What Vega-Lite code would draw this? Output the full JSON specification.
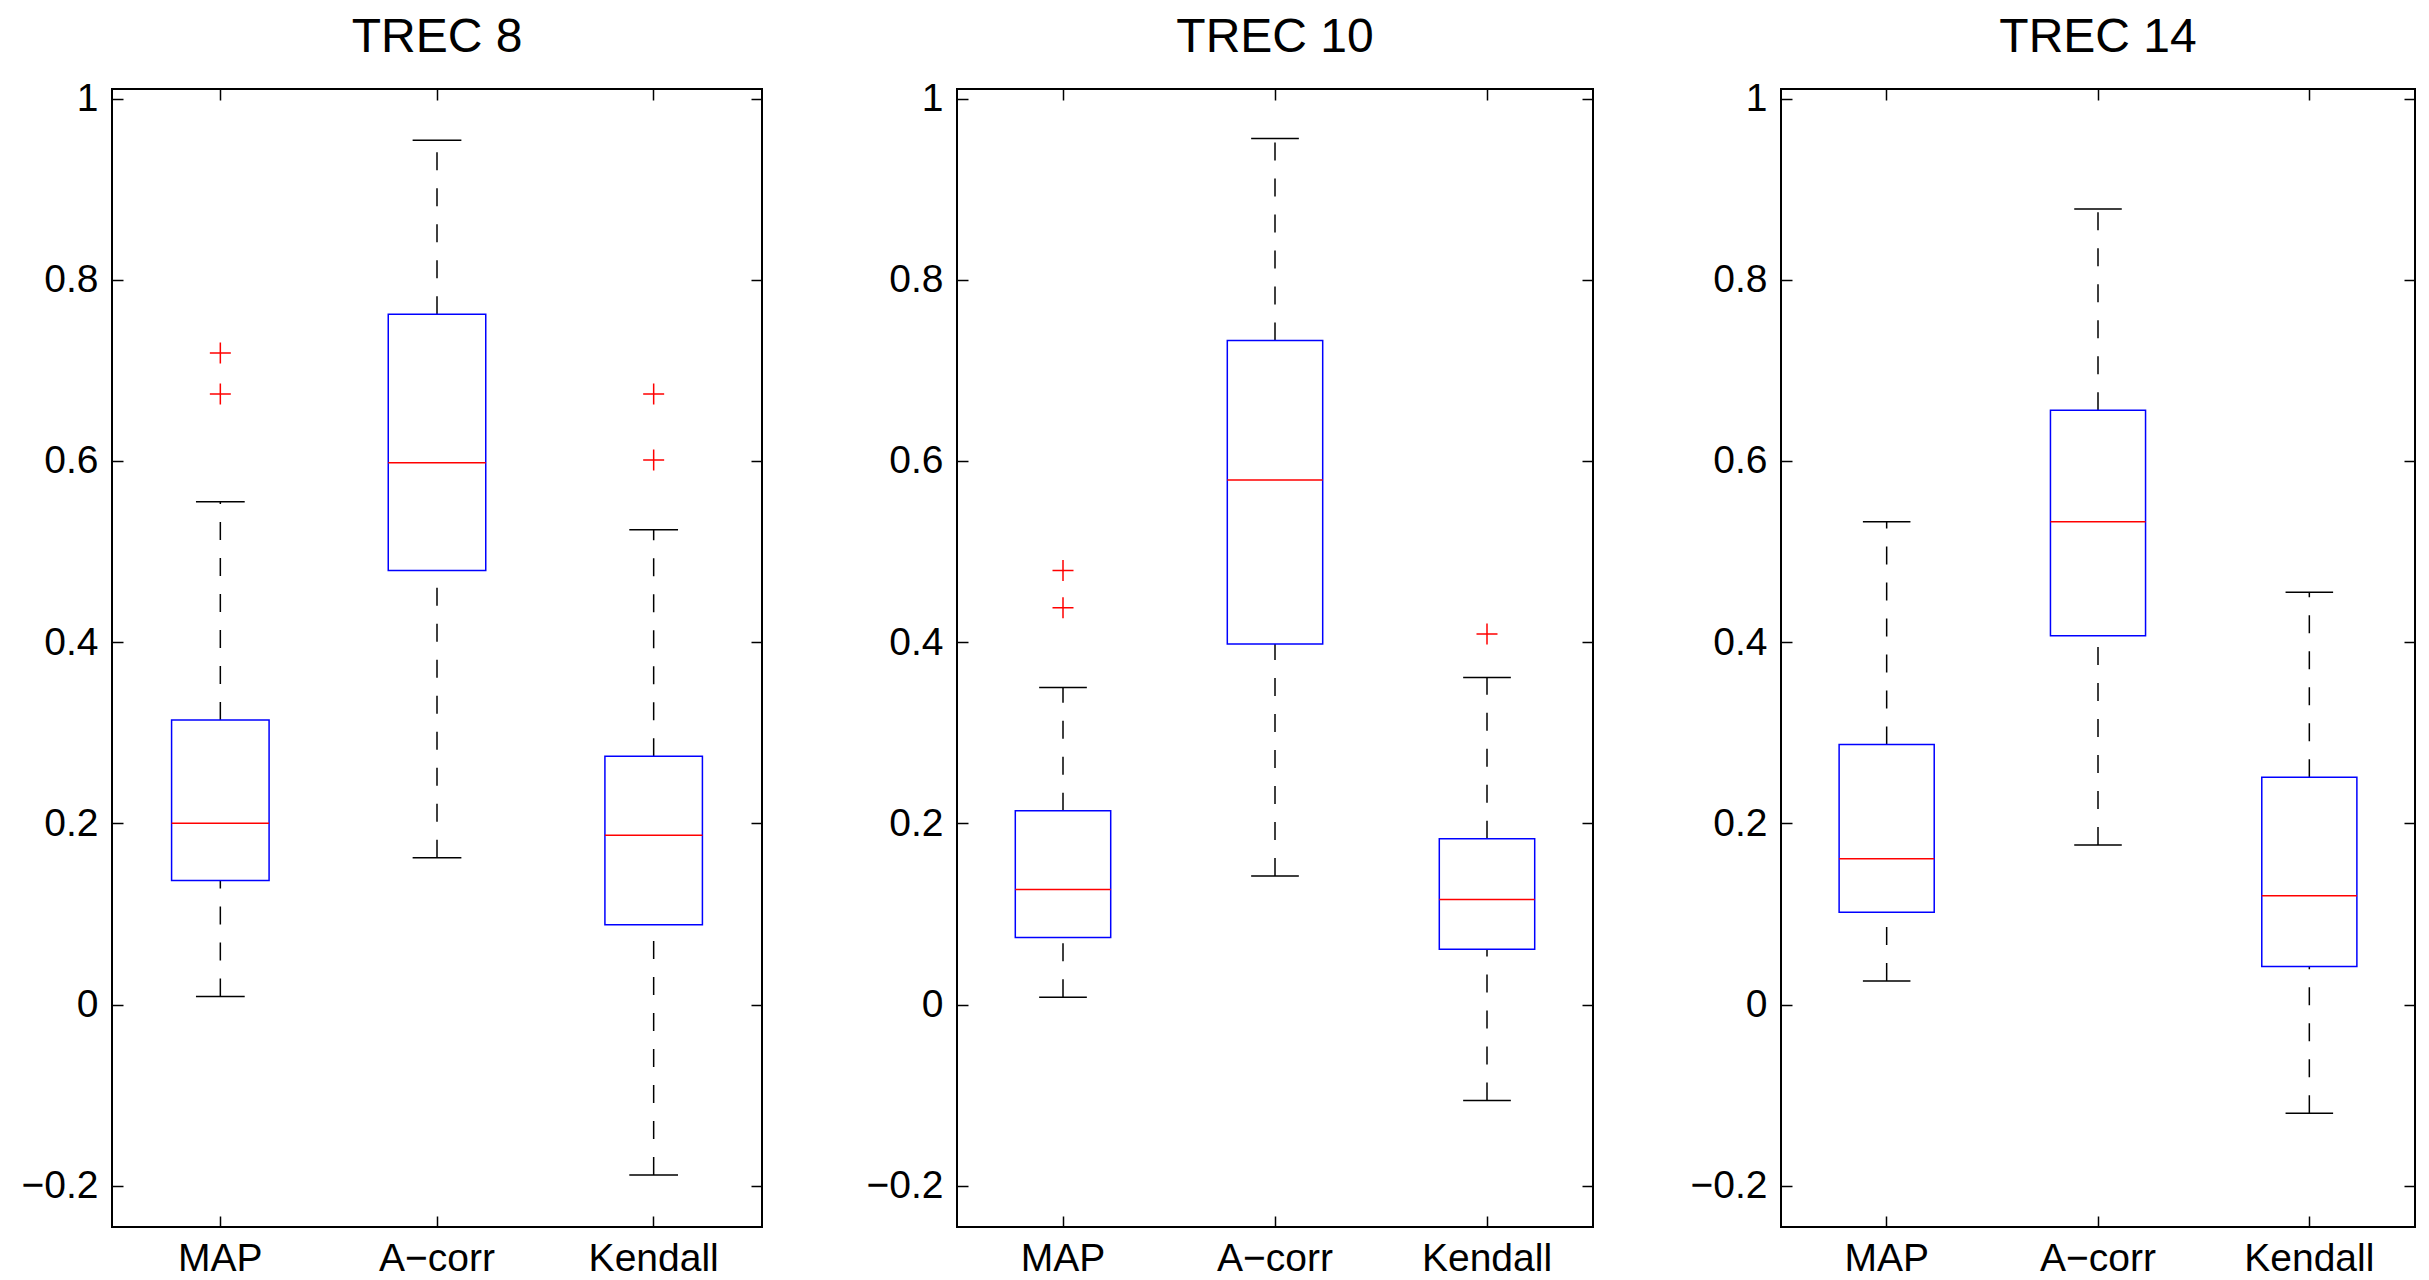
{
  "$schema": "https://vega.github.io/schema/vega-lite/v6.json",
  "padding": {"left": 20, "top": 12, "right": 5, "bottom": 0},
  "background": "white",
  "config": {
    "font": "Liberation Sans",
    "view": {"stroke": "black", "strokeWidth": 2},
    "axis": {"grid": false, "domain": false, "labelFont": "Liberation Sans", "labelFontSize": 39, "labelColor": "black", "tickColor": "black", "tickWidth": 1.5, "tickSize": -11},
    "title": {"fontSize": 48, "font": "Liberation Sans", "fontWeight": "normal", "color": "black", "baseline": "alphabetic", "offset": 18, "anchor": "middle"}
  },
  "datasets": {
    "stats": [
      {"set": "TREC 8", "metric": "MAP", "lo": 0.009, "q1": 0.137, "med": 0.200, "q3": 0.314, "hi": 0.555},
      {"set": "TREC 8", "metric": "A−corr", "lo": 0.162, "q1": 0.479, "med": 0.598, "q3": 0.762, "hi": 0.954},
      {"set": "TREC 8", "metric": "Kendall", "lo": -0.188, "q1": 0.088, "med": 0.187, "q3": 0.274, "hi": 0.524},
      {"set": "TREC 10", "metric": "MAP", "lo": 0.008, "q1": 0.074, "med": 0.127, "q3": 0.214, "hi": 0.350},
      {"set": "TREC 10", "metric": "A−corr", "lo": 0.142, "q1": 0.398, "med": 0.579, "q3": 0.733, "hi": 0.956},
      {"set": "TREC 10", "metric": "Kendall", "lo": -0.106, "q1": 0.061, "med": 0.116, "q3": 0.183, "hi": 0.361},
      {"set": "TREC 14", "metric": "MAP", "lo": 0.026, "q1": 0.102, "med": 0.161, "q3": 0.287, "hi": 0.533},
      {"set": "TREC 14", "metric": "A−corr", "lo": 0.176, "q1": 0.407, "med": 0.533, "q3": 0.656, "hi": 0.878},
      {"set": "TREC 14", "metric": "Kendall", "lo": -0.120, "q1": 0.042, "med": 0.120, "q3": 0.251, "hi": 0.455}
    ],
    "out": [
      {"set": "TREC 8", "metric": "MAP", "value": 0.719},
      {"set": "TREC 8", "metric": "MAP", "value": 0.674},
      {"set": "TREC 8", "metric": "Kendall", "value": 0.674},
      {"set": "TREC 8", "metric": "Kendall", "value": 0.601},
      {"set": "TREC 10", "metric": "MAP", "value": 0.479},
      {"set": "TREC 10", "metric": "MAP", "value": 0.438},
      {"set": "TREC 10", "metric": "Kendall", "value": 0.409}
    ]
  },
  "bounds": "flush",
  "spacing": 195,
  "hconcat": [
    {
      "title": "TREC 8",
      "width": 650, "height": 1138,
      "resolve": {"axis": {"x": "independent", "y": "independent"}},
      "layer": [
        {"data": {"name": "stats"}, "transform": [{"filter": "datum.set == 'TREC 8'"}],
         "mark": {"type": "rule", "stroke": "black", "strokeWidth": 1.5, "strokeDash": [18, 18]},
         "encoding": {
           "x": {"field": "metric", "type": "nominal", "scale": {"domain": ["MAP", "A−corr", "Kendall"], "paddingInner": 0, "paddingOuter": 0}, "axis": {"orient": "bottom", "title": null, "labelAngle": 0, "labelPadding": 23}},
           "y": {"field": "q3", "type": "quantitative", "scale": {"domain": [-0.2455, 1.0105], "nice": false, "zero": false}, "axis": {"orient": "left", "title": null, "values": [-0.2, 0, 0.2, 0.4, 0.6, 0.8, 1], "format": "~g", "labelPadding": 25}},
           "y2": {"field": "hi"}}},
        {"data": {"name": "stats"}, "transform": [{"filter": "datum.set == 'TREC 8'"}],
         "mark": {"type": "rule", "stroke": "black", "strokeWidth": 1.5, "strokeDash": [18, 18]},
         "encoding": {
           "x": {"field": "metric", "type": "nominal", "axis": {"orient": "top", "title": null, "labels": false}},
           "y": {"field": "lo", "type": "quantitative", "axis": {"orient": "right", "title": null, "labels": false, "values": [-0.2, 0, 0.2, 0.4, 0.6, 0.8, 1]}},
           "y2": {"field": "q1"}}},
        {"data": {"name": "stats"}, "transform": [{"filter": "datum.set == 'TREC 8'"}],
         "mark": {"type": "bar", "width": {"band": 0.225}, "stroke": "black", "strokeWidth": 1.5, "fillOpacity": 0},
         "encoding": {"x": {"field": "metric", "type": "nominal", "axis": null}, "y": {"field": "hi", "type": "quantitative", "axis": null}, "y2": {"field": "hi"}}},
        {"data": {"name": "stats"}, "transform": [{"filter": "datum.set == 'TREC 8'"}],
         "mark": {"type": "bar", "width": {"band": 0.225}, "stroke": "black", "strokeWidth": 1.5, "fillOpacity": 0},
         "encoding": {"x": {"field": "metric", "type": "nominal", "axis": null}, "y": {"field": "lo", "type": "quantitative", "axis": null}, "y2": {"field": "lo"}}},
        {"data": {"name": "stats"}, "transform": [{"filter": "datum.set == 'TREC 8'"}],
         "mark": {"type": "bar", "width": {"band": 0.45}, "stroke": "#0000ff", "strokeWidth": 1.5, "fill": "white"},
         "encoding": {"x": {"field": "metric", "type": "nominal", "axis": null}, "y": {"field": "q1", "type": "quantitative", "axis": null}, "y2": {"field": "q3"}}},
        {"data": {"name": "stats"}, "transform": [{"filter": "datum.set == 'TREC 8'"}],
         "mark": {"type": "bar", "width": {"band": 0.45}, "stroke": "#ff0000", "strokeWidth": 1.5, "fillOpacity": 0},
         "encoding": {"x": {"field": "metric", "type": "nominal", "axis": null}, "y": {"field": "med", "type": "quantitative", "axis": null}, "y2": {"field": "med"}}},
        {"data": {"name": "out"}, "transform": [{"filter": "datum.set == 'TREC 8'"}],
         "mark": {"type": "point", "shape": "M-1,0L1,0M0,-1L0,1", "size": 441, "filled": false, "stroke": "#ff0000", "strokeWidth": 1.5, "opacity": 1},
         "encoding": {"x": {"field": "metric", "type": "nominal", "axis": null}, "y": {"field": "value", "type": "quantitative", "axis": null}}}
      ]
    },
    {
      "bounds": "flush",
      "spacing": 188,
      "hconcat": [
        {
          "title": "TREC 10",
          "width": 636, "height": 1138,
          "resolve": {"axis": {"x": "independent", "y": "independent"}},
          "layer": [
            {"data": {"name": "stats"}, "transform": [{"filter": "datum.set == 'TREC 10'"}],
             "mark": {"type": "rule", "stroke": "black", "strokeWidth": 1.5, "strokeDash": [18, 18]},
             "encoding": {
               "x": {"field": "metric", "type": "nominal", "scale": {"domain": ["MAP", "A−corr", "Kendall"], "paddingInner": 0, "paddingOuter": 0}, "axis": {"orient": "bottom", "title": null, "labelAngle": 0, "labelPadding": 23}},
               "y": {"field": "q3", "type": "quantitative", "scale": {"domain": [-0.2455, 1.0105], "nice": false, "zero": false}, "axis": {"orient": "left", "title": null, "values": [-0.2, 0, 0.2, 0.4, 0.6, 0.8, 1], "format": "~g", "labelPadding": 25}},
               "y2": {"field": "hi"}}},
            {"data": {"name": "stats"}, "transform": [{"filter": "datum.set == 'TREC 10'"}],
             "mark": {"type": "rule", "stroke": "black", "strokeWidth": 1.5, "strokeDash": [18, 18]},
             "encoding": {
               "x": {"field": "metric", "type": "nominal", "axis": {"orient": "top", "title": null, "labels": false}},
               "y": {"field": "lo", "type": "quantitative", "axis": {"orient": "right", "title": null, "labels": false, "values": [-0.2, 0, 0.2, 0.4, 0.6, 0.8, 1]}},
               "y2": {"field": "q1"}}},
            {"data": {"name": "stats"}, "transform": [{"filter": "datum.set == 'TREC 10'"}],
             "mark": {"type": "bar", "width": {"band": 0.225}, "stroke": "black", "strokeWidth": 1.5, "fillOpacity": 0},
             "encoding": {"x": {"field": "metric", "type": "nominal", "axis": null}, "y": {"field": "hi", "type": "quantitative", "axis": null}, "y2": {"field": "hi"}}},
            {"data": {"name": "stats"}, "transform": [{"filter": "datum.set == 'TREC 10'"}],
             "mark": {"type": "bar", "width": {"band": 0.225}, "stroke": "black", "strokeWidth": 1.5, "fillOpacity": 0},
             "encoding": {"x": {"field": "metric", "type": "nominal", "axis": null}, "y": {"field": "lo", "type": "quantitative", "axis": null}, "y2": {"field": "lo"}}},
            {"data": {"name": "stats"}, "transform": [{"filter": "datum.set == 'TREC 10'"}],
             "mark": {"type": "bar", "width": {"band": 0.45}, "stroke": "#0000ff", "strokeWidth": 1.5, "fill": "white"},
             "encoding": {"x": {"field": "metric", "type": "nominal", "axis": null}, "y": {"field": "q1", "type": "quantitative", "axis": null}, "y2": {"field": "q3"}}},
            {"data": {"name": "stats"}, "transform": [{"filter": "datum.set == 'TREC 10'"}],
             "mark": {"type": "bar", "width": {"band": 0.45}, "stroke": "#ff0000", "strokeWidth": 1.5, "fillOpacity": 0},
             "encoding": {"x": {"field": "metric", "type": "nominal", "axis": null}, "y": {"field": "med", "type": "quantitative", "axis": null}, "y2": {"field": "med"}}},
            {"data": {"name": "out"}, "transform": [{"filter": "datum.set == 'TREC 10'"}],
             "mark": {"type": "point", "shape": "M-1,0L1,0M0,-1L0,1", "size": 441, "filled": false, "stroke": "#ff0000", "strokeWidth": 1.5, "opacity": 1},
             "encoding": {"x": {"field": "metric", "type": "nominal", "axis": null}, "y": {"field": "value", "type": "quantitative", "axis": null}}}
          ]
        },
        {
          "title": "TREC 14",
          "width": 634, "height": 1138,
          "resolve": {"axis": {"x": "independent", "y": "independent"}},
          "layer": [
            {"data": {"name": "stats"}, "transform": [{"filter": "datum.set == 'TREC 14'"}],
             "mark": {"type": "rule", "stroke": "black", "strokeWidth": 1.5, "strokeDash": [18, 18]},
             "encoding": {
               "x": {"field": "metric", "type": "nominal", "scale": {"domain": ["MAP", "A−corr", "Kendall"], "paddingInner": 0, "paddingOuter": 0}, "axis": {"orient": "bottom", "title": null, "labelAngle": 0, "labelPadding": 23}},
               "y": {"field": "q3", "type": "quantitative", "scale": {"domain": [-0.2455, 1.0105], "nice": false, "zero": false}, "axis": {"orient": "left", "title": null, "values": [-0.2, 0, 0.2, 0.4, 0.6, 0.8, 1], "format": "~g", "labelPadding": 25}},
               "y2": {"field": "hi"}}},
            {"data": {"name": "stats"}, "transform": [{"filter": "datum.set == 'TREC 14'"}],
             "mark": {"type": "rule", "stroke": "black", "strokeWidth": 1.5, "strokeDash": [18, 18]},
             "encoding": {
               "x": {"field": "metric", "type": "nominal", "axis": {"orient": "top", "title": null, "labels": false}},
               "y": {"field": "lo", "type": "quantitative", "axis": {"orient": "right", "title": null, "labels": false, "values": [-0.2, 0, 0.2, 0.4, 0.6, 0.8, 1]}},
               "y2": {"field": "q1"}}},
            {"data": {"name": "stats"}, "transform": [{"filter": "datum.set == 'TREC 14'"}],
             "mark": {"type": "bar", "width": {"band": 0.225}, "stroke": "black", "strokeWidth": 1.5, "fillOpacity": 0},
             "encoding": {"x": {"field": "metric", "type": "nominal", "axis": null}, "y": {"field": "hi", "type": "quantitative", "axis": null}, "y2": {"field": "hi"}}},
            {"data": {"name": "stats"}, "transform": [{"filter": "datum.set == 'TREC 14'"}],
             "mark": {"type": "bar", "width": {"band": 0.225}, "stroke": "black", "strokeWidth": 1.5, "fillOpacity": 0},
             "encoding": {"x": {"field": "metric", "type": "nominal", "axis": null}, "y": {"field": "lo", "type": "quantitative", "axis": null}, "y2": {"field": "lo"}}},
            {"data": {"name": "stats"}, "transform": [{"filter": "datum.set == 'TREC 14'"}],
             "mark": {"type": "bar", "width": {"band": 0.45}, "stroke": "#0000ff", "strokeWidth": 1.5, "fill": "white"},
             "encoding": {"x": {"field": "metric", "type": "nominal", "axis": null}, "y": {"field": "q1", "type": "quantitative", "axis": null}, "y2": {"field": "q3"}}},
            {"data": {"name": "stats"}, "transform": [{"filter": "datum.set == 'TREC 14'"}],
             "mark": {"type": "bar", "width": {"band": 0.45}, "stroke": "#ff0000", "strokeWidth": 1.5, "fillOpacity": 0},
             "encoding": {"x": {"field": "metric", "type": "nominal", "axis": null}, "y": {"field": "med", "type": "quantitative", "axis": null}, "y2": {"field": "med"}}},
            {"data": {"name": "out"}, "transform": [{"filter": "datum.set == 'TREC 14'"}],
             "mark": {"type": "point", "shape": "M-1,0L1,0M0,-1L0,1", "size": 441, "filled": false, "stroke": "#ff0000", "strokeWidth": 1.5, "opacity": 1},
             "encoding": {"x": {"field": "metric", "type": "nominal", "axis": null}, "y": {"field": "value", "type": "quantitative", "axis": null}}}
          ]
        }
      ]
    }
  ]
}
